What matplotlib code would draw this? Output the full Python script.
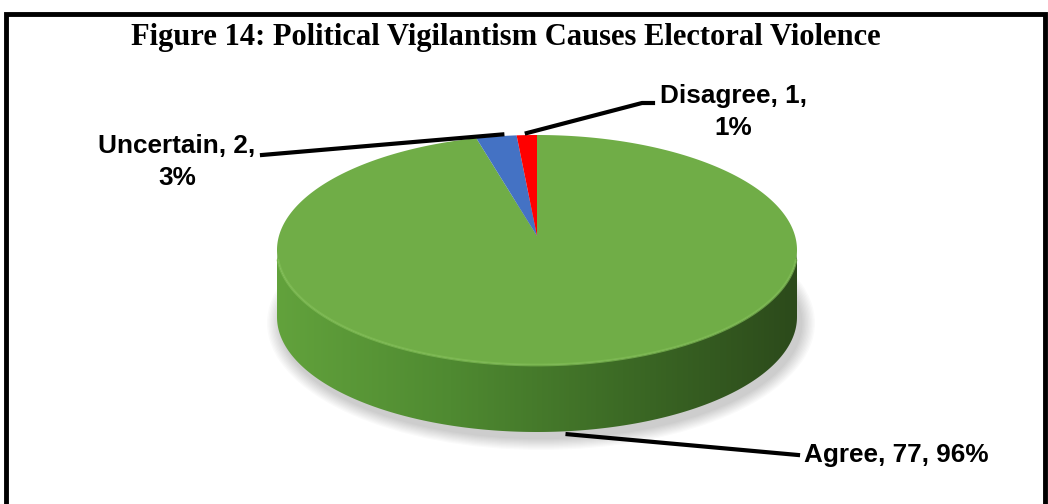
import numpy as np
import matplotlib.pyplot as plt
from matplotlib.patches import Polygon, Ellipse
from matplotlib.colors import LinearSegmentedColormap

# data
categories = ["Agree", "Uncertain", "Disagree"]
counts = [77, 2, 1]
percents = [96, 3, 1]
colors = ["#70ad47", "#4472c4", "#ff0000"]
title = "Figure 14: Political Vigilantism Causes Electoral Violence"

fig = plt.figure(figsize=(10.48, 5.04), dpi=100)
ax = fig.add_axes([0, 0, 1, 1])

# pie geometry in pixel coordinates (y downwards)
cx, cy = 537, 250       # centre of top ellipse
a, b = 260, 115         # radii of top ellipse
depth = 67              # thickness of the pie
apex_y = 236            # projected centre (perspective)


def rim(phi, dy=0.0):
    # phi in degrees, clockwise from 12 o'clock
    r = np.radians(phi)
    return cx + a * np.sin(r), cy - b * np.cos(r) + dy


# soft shadow under the pie
for k in range(10):
    ax.add_patch(Ellipse((cx + 4, cy + depth + 6), 2 * (a + 14 - k * 1.4), 2 * (b + 12 - k * 1.2),
                         facecolor="#000000", alpha=0.018, edgecolor="none", zorder=1))

# side of the pie (front half) with a left-to-right shading
phi_side = np.linspace(90, 270, 200)
tx, ty = rim(phi_side)
bx, by = rim(phi_side[::-1], depth)
side = Polygon(np.column_stack([np.r_[tx, bx], np.r_[ty, by]]), closed=True,
               facecolor="none", edgecolor="none", transform=ax.transData)
ax.add_patch(side)
cmap = LinearSegmentedColormap.from_list("side", ["#62a23c", "#4f8a31", "#3c6a25", "#2c4a1b"])
grad = np.linspace(0, 1, 256).reshape(1, -1)
im = ax.imshow(grad, cmap=cmap, extent=[cx - a, cx + a, cy + b + depth + 2, cy - 5],
               aspect="auto", zorder=2, interpolation="bilinear")
im.set_clip_path(side)

# top surface wedges, clockwise from 12 o'clock
total = sum(counts)
start = 0.0
mids = []
for n, col in zip(counts, colors):
    sweep = 360.0 * n / total
    phi = np.linspace(start, start + sweep, max(3, int(sweep * 2)))
    px, py = rim(phi)
    ax.add_patch(Polygon(np.column_stack([np.r_[cx, px], np.r_[apex_y, py]]), closed=True,
                         facecolor=col, edgecolor="none", zorder=3))
    mids.append(start + sweep / 2)
    start += sweep

# light bevel on front rim of the top
phi_rim = np.linspace(95, 265, 200)
rx, ry = rim(phi_rim)
ax.plot(rx, ry, color="#80bd55", lw=2.0, alpha=0.7, zorder=4, solid_capstyle="round")

# labels and leader lines
lab_font = dict(family="Liberation Sans", fontweight="bold", fontsize=18.8, color="black")

# Agree
sx, sy = rim(mids[0], depth)
ax.plot([sx, 798], [sy + 3, 455], color="black", lw=3, zorder=5)
ax.text(804, 455, f"{categories[0]}, {counts[0]}, {percents[0]}%", ha="left", va="center", **lab_font)

# Uncertain
sx, sy = rim(mids[1])
ax.plot([sx + 6, 262], [sy - 2, 155], color="black", lw=3, zorder=5)
ax.text(177, 162, f"{categories[1]}, {counts[1]},\n{percents[1]}%", ha="center", va="center",
        linespacing=1.4, **lab_font)

# Disagree
sx, sy = rim(mids[2])
ax.plot([sx, 642, 653], [sy - 2, 103, 103], color="black", lw=3, zorder=5)
ax.text(733, 112, f"{categories[2]}, {counts[2]},\n{percents[2]}%", ha="center", va="center",
        linespacing=1.4, **lab_font)

# title
ax.text(506, 37, title, ha="center", va="center", family="Liberation Serif",
        fontweight="bold", fontsize=22, color="black")

# frame around the figure
ax.plot([6, 6, 1045, 1045], [520, 14, 14, 520], color="black", lw=3.5, zorder=6,
        solid_joinstyle="miter")

ax.set_xlim(0, 1048)
ax.set_ylim(504, 0)
ax.axis("off")

fig.savefig("out.png", dpi=100)
